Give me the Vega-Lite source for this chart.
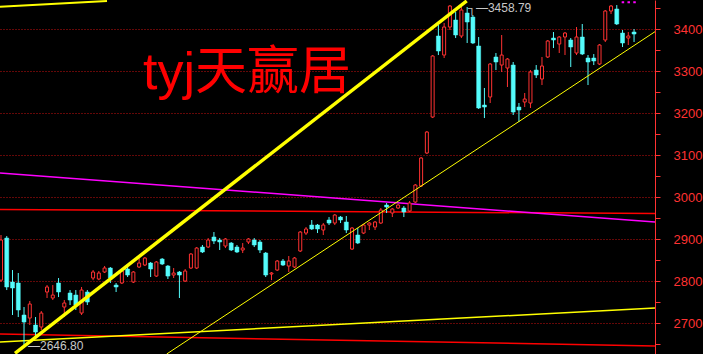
{
  "$schema": "https://vega.github.io/schema/vega-lite/v6.json",
  "width": 655,
  "height": 354,
  "autosize": {"type": "none"},
  "padding": {"left": 0, "top": 0, "right": 48, "bottom": 0},
  "background": "#000000",
  "config": {"view": {"stroke": null}},
  "datasets": {
    "k": [
      {"i":0,"o":2802.0,"h":2909.5,"l":2797.6,"c":2897.6},
      {"i":1,"o":2902.3,"h":2907.0,"l":2778.5,"c":2785.7},
      {"i":2,"o":2797.6,"h":2826.1,"l":2719.0,"c":2783.3},
      {"i":3,"o":2795.2,"h":2819.0,"l":2714.2,"c":2730.9},
      {"i":4,"o":2719.0,"h":2738.0,"l":2646.8,"c":2702.3},
      {"i":5,"o":2711.8,"h":2752.3,"l":2695.2,"c":2745.2},
      {"i":6,"o":2695.2,"h":2714.2,"l":2664.0,"c":2678.5},
      {"i":7,"o":2690.4,"h":2728.5,"l":2683.3,"c":2723.7},
      {"i":8,"o":2773.8,"h":2790.4,"l":2759.5,"c":2785.7},
      {"i":9,"o":2759.5,"h":2790.4,"l":2754.7,"c":2766.6},
      {"i":10,"o":2795.2,"h":2807.1,"l":2761.8,"c":2773.8},
      {"i":11,"o":2738.0,"h":2754.7,"l":2714.2,"c":2747.6},
      {"i":12,"o":2771.4,"h":2778.5,"l":2742.8,"c":2754.7},
      {"i":13,"o":2766.6,"h":2778.5,"l":2730.9,"c":2742.8},
      {"i":14,"o":2723.7,"h":2785.7,"l":2719.0,"c":2778.5},
      {"i":15,"o":2773.8,"h":2778.5,"l":2742.8,"c":2749.9},
      {"i":16,"o":2807.1,"h":2826.1,"l":2802.0,"c":2821.4},
      {"i":17,"o":2804.7,"h":2823.8,"l":2802.0,"c":2819.0},
      {"i":18,"o":2821.4,"h":2835.7,"l":2819.0,"c":2830.9},
      {"i":19,"o":2830.9,"h":2833.3,"l":2795.2,"c":2807.1},
      {"i":20,"o":2790.4,"h":2795.2,"l":2773.8,"c":2785.7},
      {"i":21,"o":2795.2,"h":2828.5,"l":2792.8,"c":2823.8},
      {"i":22,"o":2828.5,"h":2833.3,"l":2809.5,"c":2814.2},
      {"i":23,"o":2797.6,"h":2823.8,"l":2795.2,"c":2821.4},
      {"i":24,"o":2833.3,"h":2854.7,"l":2830.9,"c":2842.8},
      {"i":25,"o":2838.0,"h":2857.1,"l":2835.7,"c":2854.7},
      {"i":26,"o":2842.8,"h":2845.2,"l":2809.5,"c":2828.5},
      {"i":27,"o":2811.8,"h":2847.6,"l":2809.5,"c":2845.2},
      {"i":28,"o":2852.3,"h":2854.7,"l":2838.0,"c":2840.4},
      {"i":29,"o":2835.7,"h":2838.0,"l":2804.7,"c":2811.8},
      {"i":30,"o":2814.2,"h":2830.9,"l":2807.1,"c":2819.0},
      {"i":31,"o":2821.4,"h":2823.8,"l":2759.5,"c":2814.2},
      {"i":32,"o":2799.9,"h":2828.5,"l":2797.6,"c":2823.8},
      {"i":33,"o":2830.9,"h":2866.6,"l":2828.5,"c":2864.2},
      {"i":34,"o":2830.9,"h":2880.9,"l":2828.5,"c":2878.5},
      {"i":35,"o":2880.9,"h":2885.7,"l":2866.6,"c":2869.0},
      {"i":36,"o":2880.9,"h":2902.3,"l":2878.5,"c":2897.6},
      {"i":37,"o":2904.7,"h":2916.6,"l":2888.0,"c":2895.2},
      {"i":38,"o":2897.6,"h":2902.3,"l":2873.8,"c":2892.8},
      {"i":39,"o":2883.3,"h":2902.3,"l":2878.5,"c":2900.0},
      {"i":40,"o":2890.4,"h":2892.8,"l":2871.4,"c":2873.8},
      {"i":41,"o":2880.9,"h":2885.7,"l":2866.6,"c":2869.0},
      {"i":42,"o":2873.8,"h":2890.4,"l":2866.6,"c":2878.5},
      {"i":43,"o":2892.8,"h":2902.3,"l":2888.0,"c":2900.0},
      {"i":44,"o":2897.6,"h":2902.3,"l":2880.9,"c":2885.7},
      {"i":45,"o":2892.8,"h":2897.6,"l":2866.6,"c":2873.8},
      {"i":46,"o":2866.6,"h":2869.0,"l":2809.5,"c":2814.2},
      {"i":47,"o":2816.6,"h":2821.4,"l":2802.0,"c":2819.0},
      {"i":48,"o":2826.1,"h":2850.0,"l":2823.8,"c":2847.6},
      {"i":49,"o":2847.6,"h":2852.3,"l":2835.7,"c":2838.0},
      {"i":50,"o":2835.7,"h":2859.5,"l":2821.4,"c":2847.6},
      {"i":51,"o":2833.3,"h":2857.1,"l":2830.9,"c":2854.7},
      {"i":52,"o":2871.4,"h":2919.0,"l":2869.0,"c":2916.6},
      {"i":53,"o":2914.2,"h":2928.5,"l":2909.5,"c":2923.8},
      {"i":54,"o":2933.3,"h":2945.2,"l":2921.4,"c":2923.8},
      {"i":55,"o":2933.3,"h":2935.7,"l":2914.2,"c":2923.8},
      {"i":56,"o":2921.4,"h":2938.0,"l":2909.5,"c":2933.3},
      {"i":57,"o":2945.2,"h":2952.3,"l":2933.3,"c":2938.0},
      {"i":58,"o":2938.0,"h":2959.5,"l":2933.3,"c":2957.1},
      {"i":59,"o":2952.3,"h":2954.7,"l":2938.0,"c":2945.2},
      {"i":60,"o":2940.4,"h":2954.7,"l":2914.2,"c":2921.4},
      {"i":61,"o":2876.1,"h":2928.5,"l":2873.8,"c":2926.1},
      {"i":62,"o":2909.5,"h":2926.1,"l":2888.0,"c":2890.4},
      {"i":63,"o":2914.2,"h":2935.7,"l":2911.8,"c":2933.3},
      {"i":64,"o":2933.3,"h":2940.4,"l":2921.4,"c":2938.0},
      {"i":65,"o":2928.5,"h":2942.8,"l":2921.4,"c":2940.4},
      {"i":66,"o":2938.0,"h":2973.8,"l":2935.7,"c":2969.0},
      {"i":67,"o":2980.9,"h":2985.7,"l":2961.9,"c":2976.1},
      {"i":68,"o":2961.9,"h":2973.8,"l":2952.3,"c":2971.4},
      {"i":69,"o":2973.8,"h":2983.3,"l":2971.4,"c":2980.9},
      {"i":70,"o":2973.8,"h":2978.5,"l":2952.3,"c":2964.3},
      {"i":71,"o":2966.6,"h":2990.4,"l":2964.3,"c":2985.7},
      {"i":72,"o":2988.0,"h":3030.9,"l":2985.7,"c":3028.5},
      {"i":73,"o":3026.1,"h":3095.2,"l":3023.8,"c":3092.8},
      {"i":74,"o":3104.7,"h":3157.1,"l":3102.3,"c":3154.7},
      {"i":75,"o":3190.4,"h":3338.0,"l":3188.0,"c":3335.7},
      {"i":76,"o":3383.3,"h":3409.5,"l":3338.0,"c":3347.6},
      {"i":77,"o":3338.0,"h":3414.2,"l":3330.9,"c":3404.7},
      {"i":78,"o":3404.7,"h":3457.1,"l":3397.6,"c":3454.7},
      {"i":79,"o":3421.4,"h":3440.4,"l":3378.5,"c":3385.7},
      {"i":80,"o":3383.3,"h":3458.79,"l":3378.5,"c":3445.2},
      {"i":81,"o":3438.1,"h":3452.4,"l":3366.6,"c":3416.6},
      {"i":82,"o":3428.5,"h":3433.3,"l":3364.2,"c":3366.6},
      {"i":83,"o":3359.5,"h":3380.9,"l":3209.5,"c":3211.9},
      {"i":84,"o":3219.0,"h":3259.5,"l":3188.0,"c":3214.2},
      {"i":85,"o":3238.1,"h":3319.0,"l":3223.8,"c":3316.6},
      {"i":86,"o":3333.3,"h":3342.8,"l":3302.3,"c":3321.4},
      {"i":87,"o":3314.2,"h":3385.7,"l":3297.6,"c":3338.0},
      {"i":88,"o":3307.1,"h":3330.9,"l":3261.9,"c":3328.5},
      {"i":89,"o":3314.2,"h":3321.4,"l":3195.2,"c":3202.3},
      {"i":90,"o":3214.2,"h":3223.8,"l":3178.5,"c":3207.1},
      {"i":91,"o":3226.1,"h":3247.6,"l":3214.2,"c":3233.3},
      {"i":92,"o":3223.8,"h":3302.3,"l":3211.9,"c":3297.6},
      {"i":93,"o":3302.3,"h":3314.2,"l":3283.3,"c":3290.4},
      {"i":94,"o":3280.9,"h":3333.3,"l":3266.6,"c":3311.9},
      {"i":95,"o":3333.3,"h":3373.8,"l":3330.9,"c":3371.4},
      {"i":96,"o":3378.5,"h":3392.8,"l":3354.7,"c":3373.8},
      {"i":97,"o":3364.2,"h":3383.3,"l":3342.8,"c":3380.9},
      {"i":98,"o":3380.9,"h":3392.8,"l":3338.0,"c":3390.4},
      {"i":99,"o":3373.8,"h":3378.5,"l":3309.5,"c":3357.1},
      {"i":100,"o":3342.8,"h":3404.7,"l":3338.0,"c":3380.9},
      {"i":101,"o":3380.9,"h":3411.9,"l":3338.0,"c":3340.4},
      {"i":102,"o":3330.9,"h":3338.0,"l":3266.6,"c":3321.4},
      {"i":103,"o":3330.9,"h":3340.4,"l":3314.2,"c":3323.8},
      {"i":104,"o":3316.6,"h":3364.2,"l":3314.2,"c":3361.9},
      {"i":105,"o":3373.8,"h":3445.2,"l":3369.0,"c":3442.8},
      {"i":106,"o":3442.8,"h":3457.1,"l":3435.7,"c":3454.7},
      {"i":107,"o":3447.6,"h":3457.0,"l":3409.5,"c":3411.9},
      {"i":108,"o":3390.4,"h":3397.6,"l":3357.1,"c":3366.6},
      {"i":109,"o":3378.5,"h":3392.8,"l":3361.9,"c":3383.3},
      {"i":110,"o":3392.8,"h":3400.0,"l":3369.0,"c":3388.0}
    ],
    "lines": [
      {"line":"channel_top","i":2.43,"p":2627.9},
      {"line":"channel_top","i":80.92,"p":3466.7},
      {"line":"upper_left","i":-0.174,"p":3453.1},
      {"line":"upper_left","i":18.42,"p":3466.7},
      {"line":"support","i":28.79,"p":2626.2},
      {"line":"support","i":113.64,"p":3393.6},
      {"line":"base_yellow","i":-0.174,"p":2654.8},
      {"line":"base_yellow","i":113.64,"p":2735.7},
      {"line":"base_red","i":-0.174,"p":2673.8},
      {"line":"base_red","i":113.64,"p":2645.2},
      {"line":"magenta","i":-0.174,"p":3057.1},
      {"line":"magenta","i":113.64,"p":2940.5},
      {"line":"mid_red","i":-0.174,"p":2970.2},
      {"line":"mid_red","i":113.64,"p":2960.7},
      {"line":"magenta_top","i":107.85,"p":3463.8},
      {"line":"magenta_top","i":110.45,"p":3463.8}
    ],
    "notes": [
      {"i":24.67,"p":3257.1,"text":"tyj天赢居"}
    ]
  },
  "encoding": {
    "x": {
      "field": "i", "type": "quantitative",
      "scale": {"domain": [-0.174, 113.64], "nice": false, "zero": false, "padding": 0},
      "axis": null
    },
    "y": {
      "field": "p", "type": "quantitative",
      "scale": {"domain": [2626.2, 3469.05], "nice": false, "zero": false, "padding": 0},
      "axis": {
        "orient": "right",
        "title": null,
        "values": [2650, 2700, 2750, 2800, 2850, 2900, 2950, 3000, 3050, 3100, 3150, 3200, 3250, 3300, 3350, 3400, 3450],
        "format": "d",
        "labelExpr": "datum.value % 100 === 0 ? datum.label : ''",
        "grid": true,
        "gridColor": "#C81010",
        "gridDash": [1, 2],
        "gridWidth": 1,
        "gridOpacity": {"condition": {"test": "datum.value % 100 === 0", "value": 1}, "value": 0},
        "domainColor": "#FF3232",
        "tickColor": "#FF3232",
        "labelColor": "#FF3232",
        "tickSize": 5,
        "labelPadding": 13,
        "labelFont": "Liberation Sans",
        "labelFontSize": 13,
        "labelAlign": "left",
        "labelBaseline": "middle",
        "labelFlush": false,
        "labelOverlap": false
      }
    }
  },
  "layer": [
    {
      "data": {"name": "lines"},
      "transform": [{"filter": "datum.line === 'mid_red' || datum.line === 'base_red'"}],
      "mark": {"type": "line", "color": "#FF0000", "strokeWidth": 1.5, "clip": true},
      "encoding": {"detail": {"field": "line"}}
    },
    {
      "data": {"name": "lines"},
      "transform": [{"filter": "datum.line === 'magenta'"}],
      "mark": {"type": "line", "color": "#FF00FF", "strokeWidth": 1.5, "clip": true},
      "encoding": {}
    },
    {
      "data": {"name": "lines"},
      "transform": [{"filter": "datum.line === 'magenta_top'"}],
      "mark": {"type": "line", "color": "#FF00FF", "strokeWidth": 2, "strokeDash": [2.5, 3.3], "clip": true},
      "encoding": {}
    },
    {
      "data": {"name": "lines"},
      "transform": [{"filter": "datum.line === 'base_yellow'"}],
      "mark": {"type": "line", "color": "#FFFF00", "strokeWidth": 1.5, "clip": true},
      "encoding": {}
    },
    {
      "data": {"name": "k"},
      "transform": [
        {"calculate": "datum.c >= datum.o ? 'up' : 'down'", "as": "dir"},
        {"calculate": "datum.l", "as": "p"}
      ],
      "mark": {"type": "rule", "strokeWidth": 1},
      "encoding": {
        "y2": {"field": "h"},
        "color": {"field": "dir", "type": "nominal", "scale": {"domain": ["up", "down"], "range": ["#FF3232", "#54FCFC"]}, "legend": null}
      }
    },
    {
      "data": {"name": "k"},
      "transform": [
        {"filter": "datum.c >= datum.o"},
        {"calculate": "datum.o", "as": "p"}
      ],
      "mark": {"type": "bar", "size": 3, "fill": "#000000", "stroke": "#FF3232", "strokeWidth": 1},
      "encoding": {"y2": {"field": "c"}}
    },
    {
      "data": {"name": "k"},
      "transform": [
        {"filter": "datum.c < datum.o"},
        {"calculate": "datum.o", "as": "p"}
      ],
      "mark": {"type": "bar", "size": 4, "fill": "#54FCFC", "stroke": "#54FCFC", "strokeWidth": 0.5},
      "encoding": {"y2": {"field": "c"}}
    },
    {
      "data": {"name": "lines"},
      "transform": [{"filter": "datum.line === 'support'"}],
      "mark": {"type": "line", "color": "#FFFF00", "strokeWidth": 1, "clip": true},
      "encoding": {}
    },
    {
      "data": {"name": "lines"},
      "transform": [{"filter": "datum.line === 'upper_left'"}],
      "mark": {"type": "line", "color": "#FFFF00", "strokeWidth": 2, "clip": true},
      "encoding": {}
    },
    {
      "data": {"name": "lines"},
      "transform": [{"filter": "datum.line === 'channel_top'"}],
      "mark": {"type": "line", "color": "#FFFF00", "strokeWidth": 3.5, "clip": true},
      "encoding": {}
    },
    {
      "data": {"name": "k"},
      "transform": [
        {"filter": "datum.i === 80"},
        {"calculate": "datum.h", "as": "p"},
        {"calculate": "'\u2510\u2014' + format(datum.h, '.2f')", "as": "lab"}
      ],
      "mark": {"type": "text", "align": "left", "baseline": "middle", "dx": 6, "dy": 4, "color": "#C8C8C8", "font": "Liberation Sans", "fontSize": 12},
      "encoding": {"text": {"field": "lab"}}
    },
    {
      "data": {"name": "k"},
      "transform": [
        {"filter": "datum.i === 4"},
        {"calculate": "datum.l", "as": "p"},
        {"calculate": "'\u2014' + format(datum.l, '.2f')", "as": "lab"}
      ],
      "mark": {"type": "text", "align": "left", "baseline": "middle", "dx": 4, "dy": 1, "color": "#C8C8C8", "font": "Liberation Sans", "fontSize": 12},
      "encoding": {"text": {"field": "lab"}}
    },
    {
      "data": {"name": "notes"},
      "mark": {"type": "text", "align": "left", "baseline": "alphabetic", "color": "#FF0000", "font": "Liberation Sans, Noto Sans CJK SC", "fontSize": 52},
      "encoding": {"text": {"field": "text"}}
    }
  ]
}
